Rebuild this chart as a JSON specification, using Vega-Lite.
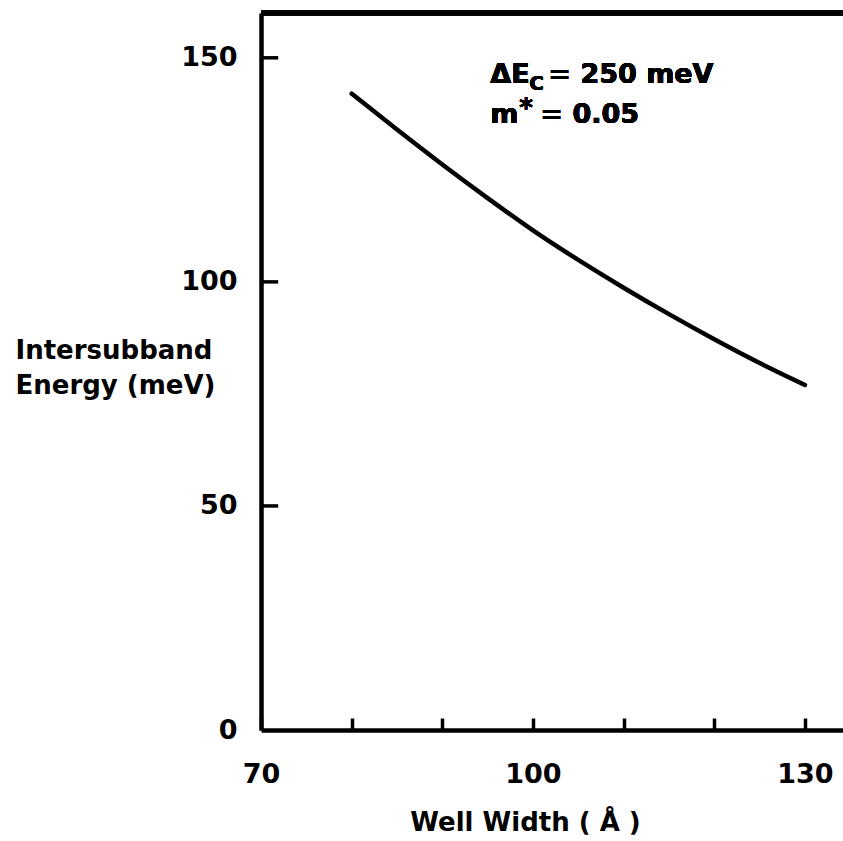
{
  "$schema": "https://vega.github.io/schema/vega-lite/v6.json",
  "width": 582,
  "height": 717,
  "autosize": "none",
  "padding": {"left": 261, "top": 13, "right": 0, "bottom": 111},
  "background": "white",
  "config": {
    "view": {"stroke": null},
    "font": "DejaVu Sans",
    "axis": {
      "grid": false,
      "domainColor": "black",
      "domainWidth": 4.5,
      "tickColor": "black",
      "tickWidth": 3.5,
      "labelColor": "black",
      "labelFont": "DejaVu Sans",
      "labelFontSize": 27,
      "labelFontWeight": "bold",
      "titleColor": "black",
      "titleFont": "DejaVu Sans",
      "titleFontWeight": "bold"
    }
  },
  "data": {
    "values": [
      {"width": 80, "energy": 142.0},
      {"width": 85, "energy": 134.0},
      {"width": 90, "energy": 126.2},
      {"width": 95, "energy": 118.7},
      {"width": 100, "energy": 111.5},
      {"width": 105, "energy": 104.9},
      {"width": 110, "energy": 98.7},
      {"width": 115, "energy": 92.8},
      {"width": 120, "energy": 87.2},
      {"width": 125, "energy": 81.9},
      {"width": 130, "energy": 77.0}
    ]
  },
  "layer": [
    {
      "mark": {"type": "line", "interpolate": "monotone", "strokeWidth": 4.5, "color": "black", "strokeCap": "round"},
      "encoding": {
        "x": {
          "field": "width",
          "type": "quantitative",
          "scale": {"domain": [70, 134.2], "nice": false, "zero": false},
          "axis": {
            "values": [70, 80, 90, 100, 110, 120, 130],
            "labelExpr": "datum.value % 30 == 10 ? datum.label : ''",
            "tickSize": -12,
            "labelPadding": 43,
            "labelFlush": false,
            "labelOverlap": false,
            "title": "Well  Width ( Å )",
            "titleFontSize": 26,
            "titleBaseline": "alphabetic",
            "titleX": 264,
            "titleY": 100
          }
        },
        "y": {
          "field": "energy",
          "type": "quantitative",
          "scale": {"domain": [0, 160], "nice": false, "zero": true},
          "axis": {
            "values": [0, 50, 100, 150],
            "ticks": false,
            "labelPadding": 24,
            "labelFlush": false,
            "labelOverlap": false,
            "title": ["Intersubband", "Energy (meV)"],
            "titleFontSize": 26,
            "titleAngle": 0,
            "titleAlign": "left",
            "titleBaseline": "alphabetic",
            "titleLineHeight": 35,
            "titleX": -246,
            "titleY": 345
          }
        }
      }
    },
    {
      "data": {"values": [{"tick": 50}, {"tick": 100}, {"tick": 150}]},
      "mark": {"type": "rule", "strokeWidth": 3.5, "color": "black"},
      "encoding": {
        "x": {"datum": 70},
        "x2": {"datum": 71.9},
        "y": {"field": "tick", "type": "quantitative", "title": ["Intersubband", "Energy (meV)"]}
      }
    },
    {
      "mark": {"type": "rule", "strokeWidth": 4.5, "color": "black"},
      "encoding": {"y": {"datum": 160}}
    },
    {
      "mark": {"type": "text", "text": "ΔE", "align": "left", "baseline": "alphabetic", "fontSize": 27, "fontWeight": "bold", "font": "DejaVu Sans", "color": "black"},
      "encoding": {"x": {"datum": 95.3}, "y": {"datum": 144.4}}
    },
    {
      "mark": {"type": "text", "text": "C", "align": "left", "baseline": "alphabetic", "fontSize": 20, "fontWeight": "bold", "font": "DejaVu Sans", "color": "black", "dx": 39, "dy": 7},
      "encoding": {"x": {"datum": 95.3}, "y": {"datum": 144.4}}
    },
    {
      "mark": {"type": "text", "text": "= 250 meV", "align": "left", "baseline": "alphabetic", "fontSize": 27, "fontWeight": "bold", "font": "DejaVu Sans", "color": "black", "dx": 58},
      "encoding": {"x": {"datum": 95.3}, "y": {"datum": 144.4}}
    },
    {
      "mark": {"type": "text", "text": "m", "align": "left", "baseline": "alphabetic", "fontSize": 27, "fontWeight": "bold", "font": "DejaVu Sans", "color": "black"},
      "encoding": {"x": {"datum": 95.3}, "y": {"datum": 135.5}}
    },
    {
      "mark": {"type": "text", "text": "*", "align": "left", "baseline": "alphabetic", "fontSize": 26, "fontWeight": "bold", "font": "DejaVu Sans", "color": "black", "dx": 29, "dy": -6},
      "encoding": {"x": {"datum": 95.3}, "y": {"datum": 135.5}}
    },
    {
      "mark": {"type": "text", "text": "= 0.05", "align": "left", "baseline": "alphabetic", "fontSize": 27, "fontWeight": "bold", "font": "DejaVu Sans", "color": "black", "dx": 50},
      "encoding": {"x": {"datum": 95.3}, "y": {"datum": 135.5}}
    }
  ]
}
